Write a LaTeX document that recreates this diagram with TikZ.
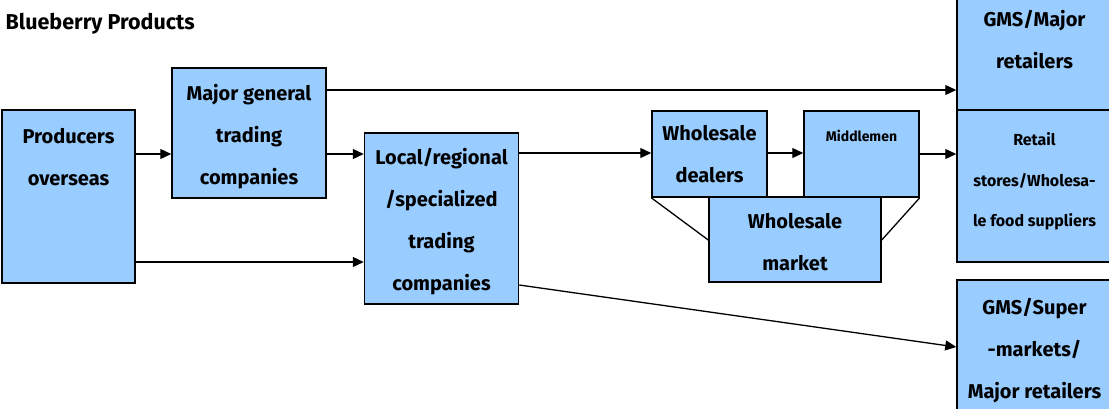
\documentclass[tikz,border=0pt]{standalone}
\usepackage{fontspec}
\setmainfont{Fira Sans}
\usepackage{xcolor}
\usepackage{tikz}
\usetikzlibrary{arrows.meta}
\usetikzlibrary{positioning}

\definecolor{boxblue}{RGB}{153,204,255}

\begin{document}
\begin{tikzpicture}[x=1pt, y=-1pt, >={Triangle[length=11pt,width=10pt]},
	line width=1.3pt,
	box/.style={rectangle, draw, fill=boxblue, line width=1.5pt, inner sep=0pt},
	txt/.style={align=center, anchor=north, inner sep=0pt,
		execute at begin node={\rule{0pt}{16pt}},
		font=\bfseries\fontsize{20}{42}\selectfont},
	small/.style={txt, font=\bfseries\fontsize{16}{40.5}\selectfont},
	tiny/.style={txt, font=\bfseries\fontsize{14}{20}\selectfont},
]
\useasboundingbox (0,0) rectangle (1109,408);
\clip (0,0) rectangle (1109,408);
\node [anchor=base west, inner sep=0pt, font=\bfseries\fontsize{21.5}{24}\selectfont] (title) at (5,29) {Blueberry Products};
%
\node [box, minimum width=133pt, minimum height=173pt] (prod)   at (68.5,196.5) {};
\node [box, minimum width=154pt, minimum height=130pt] (major)  at (249,133)    {};
\node [box, minimum width=154pt, minimum height=171pt] (local)  at (441.5,218.5) {};
\node [box, minimum width=115pt, minimum height=86pt]  (dealer) at (709.5,154)  {};
\node [box, minimum width=115pt, minimum height=86pt]  (middle) at (861.5,154)  {};
\node [box, minimum width=172pt, minimum height=85pt]  (market) at (795,239.5)  {};
\node [box, minimum width=155pt, minimum height=115pt] (gms)    at (1034.5,52.5) {};
\node [box, minimum width=155pt, minimum height=152pt] (retail) at (1034.5,186)  {};
\node [box, minimum width=155pt, minimum height=140pt] (super)  at (1034.5,350)  {};
%
% texts hang from the top edge of each box
\node [txt]   (prod-t)   at ([yshift=-18pt]prod.north)   {Producers\\overseas};
\node [txt]   (major-t)  at ([yshift=-16pt]major.north)  {Major general\\trading\\companies};
\node [txt]   (local-t)  at ([yshift=-15pt]local.north)  {Local/regional\\/specialized\\trading\\companies};
\node [txt]   (dealer-t) at ([yshift=-14pt]dealer.north) {Wholesale\\dealers};
\node [tiny]  (middle-t) at ([yshift=-15pt]middle.north) {Middlemen};
\node [txt]   (market-t) at ([yshift=-16pt]market.north) {Wholesale\\market};
\node [txt]   (gms-t)    at ([yshift=-15pt]gms.north)    {GMS/Major\\retailers};
\node [small] (retail-t) at ([yshift=-23pt]retail.north) {Retail\\stores/Wholesa-\\le food suppliers};
\node [txt]   (super-t)  at ([yshift=-18pt]super.north)  {GMS/Super\\-markets/\\Major retailers};
%
\draw [->] (prod.east |- 0,154)   -- (major.west |- 0,154);
\draw [->] (major.east |- 0,154)  -- (local.west |- 0,154);
\draw [->] (prod.east |- 0,262)   -- (local.west |- 0,262);
\draw [->] (major.east |- 0,90)   -- (gms.west |- 0,90);
\draw [->] (local.east |- 0,153)  -- (dealer.west |- 0,153);
\draw [->] (dealer.east |- 0,153) -- (middle.west |- 0,153);
\draw [->] (middle.east |- 0,154) -- (retail.west |- 0,154);
\draw [->] (local.east |- 0,285)  -- (super.west |- 0,347);
\draw (dealer.south west) -- (market.west |- 0,240);
\draw (middle.south east) -- (market.east |- 0,240);
\end{tikzpicture}
\end{document}
